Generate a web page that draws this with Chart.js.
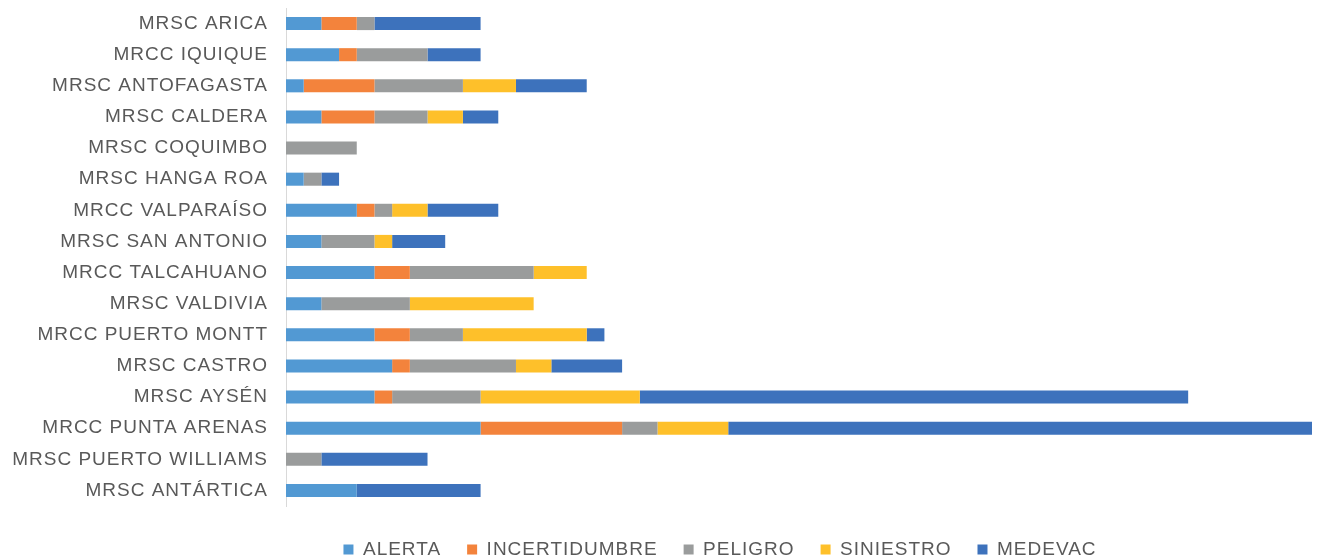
<!DOCTYPE html>
<html>
<head>
<meta charset="utf-8">
<script src="https://cdn.jsdelivr.net/npm/chart.js@4.4.1/dist/chart.umd.min.js"></script>
<style>
  html, body { margin: 0; padding: 0; background: #ffffff; }
  #wrap { width: 1317px; height: 559px; position: relative; }
</style>
</head>
<body>
<div id="wrap"><canvas id="chart"></canvas></div>
<script>
  // Centros (categorias del eje vertical)
  const categories = [
    "MRSC ARICA", "MRCC IQUIQUE", "MRSC ANTOFAGASTA", "MRSC CALDERA",
    "MRSC COQUIMBO", "MRSC HANGA ROA", "MRCC VALPARAÍSO", "MRSC SAN ANTONIO",
    "MRCC TALCAHUANO", "MRSC VALDIVIA", "MRCC PUERTO MONTT", "MRSC CASTRO",
    "MRSC AYSÉN", "MRCC PUNTA ARENAS", "MRSC PUERTO WILLIAMS", "MRSC ANTÁRTICA"
  ];

  // Valores por tipo de caso
  const alerta        = [2, 3, 1, 2, 0, 1, 4, 2, 5, 2, 5, 6, 5, 11, 0, 4];
  const incertidumbre = [2, 1, 4, 3, 0, 0, 1, 0, 2, 0, 2, 1, 1, 8, 0, 0];
  const peligro       = [1, 4, 5, 3, 4, 1, 1, 3, 7, 5, 3, 6, 5, 2, 2, 0];
  const siniestro     = [0, 0, 3, 2, 0, 0, 2, 1, 3, 7, 7, 2, 9, 4, 0, 0];
  const medevac       = [6, 3, 4, 2, 0, 1, 4, 3, 0, 0, 1, 4, 31, 33, 6, 7];

  const colors = {
    alerta: "#5299D3",
    incertidumbre: "#F3833C",
    peligro: "#9A9C9C",
    siniestro: "#FEC02A",
    medevac: "#3D72BC"
  };

  const textColor = "#595959";
  const fontFamily = "'Liberation Sans', Arial, sans-serif";

  // Espaciado de letras como en el original
  const spacingPlugin = {
    id: "spacing",
    beforeLayout: function (chart) { chart.ctx.letterSpacing = "1px"; },
    beforeDraw: function (chart) { chart.ctx.letterSpacing = "1px"; }
  };

  // La leyenda del original no esta centrada en el lienzo
  const legendShift = {
    id: "legendShift",
    afterLayout: function (chart) {
      if (chart.legend) {
        chart.legend.left += 64;
        chart.legend.right += 64;
      }
    }
  };

  function makeSet(label, data, color) {
    return {
      label: label,
      data: data,
      backgroundColor: color,
      borderWidth: 0,
      barPercentage: 0.42,
      categoryPercentage: 1
    };
  }

  new Chart(document.getElementById("chart"), {
    type: "bar",
    data: {
      labels: categories,
      datasets: [
        makeSet("ALERTA", alerta, colors.alerta),
        makeSet("INCERTIDUMBRE", incertidumbre, colors.incertidumbre),
        makeSet("PELIGRO", peligro, colors.peligro),
        makeSet("SINIESTRO", siniestro, colors.siniestro),
        makeSet("MEDEVAC", medevac, colors.medevac)
      ]
    },
    plugins: [spacingPlugin, legendShift],
    options: {
      indexAxis: "y",
      responsive: true,
      maintainAspectRatio: false,
      animation: false,
      layout: { padding: { left: 0, right: 5, top: 8, bottom: -10 } },
      scales: {
        x: {
          stacked: true,
          min: 0,
          max: 58,
          grid: { display: false },
          border: { display: false },
          ticks: { display: false }
        },
        y: {
          stacked: true,
          grid: { display: false },
          border: { display: true, color: "#D9D9D9", width: 1 },
          ticks: {
            color: textColor,
            padding: 10,
            font: { family: fontFamily, size: 19 }
          },
          afterFit: function (scale) {
            scale.width = 286;
            scale.paddingTop = 0;
            scale.paddingBottom = 0;
          }
        }
      },
      plugins: {
        tooltip: { enabled: false },
        legend: {
          position: "bottom",
          labels: {
            color: textColor,
            boxWidth: 10,
            boxHeight: 10,
            padding: 26,
            font: { family: fontFamily, size: 19 }
          }
        }
      }
    }
  });
</script>
</body>
</html>
